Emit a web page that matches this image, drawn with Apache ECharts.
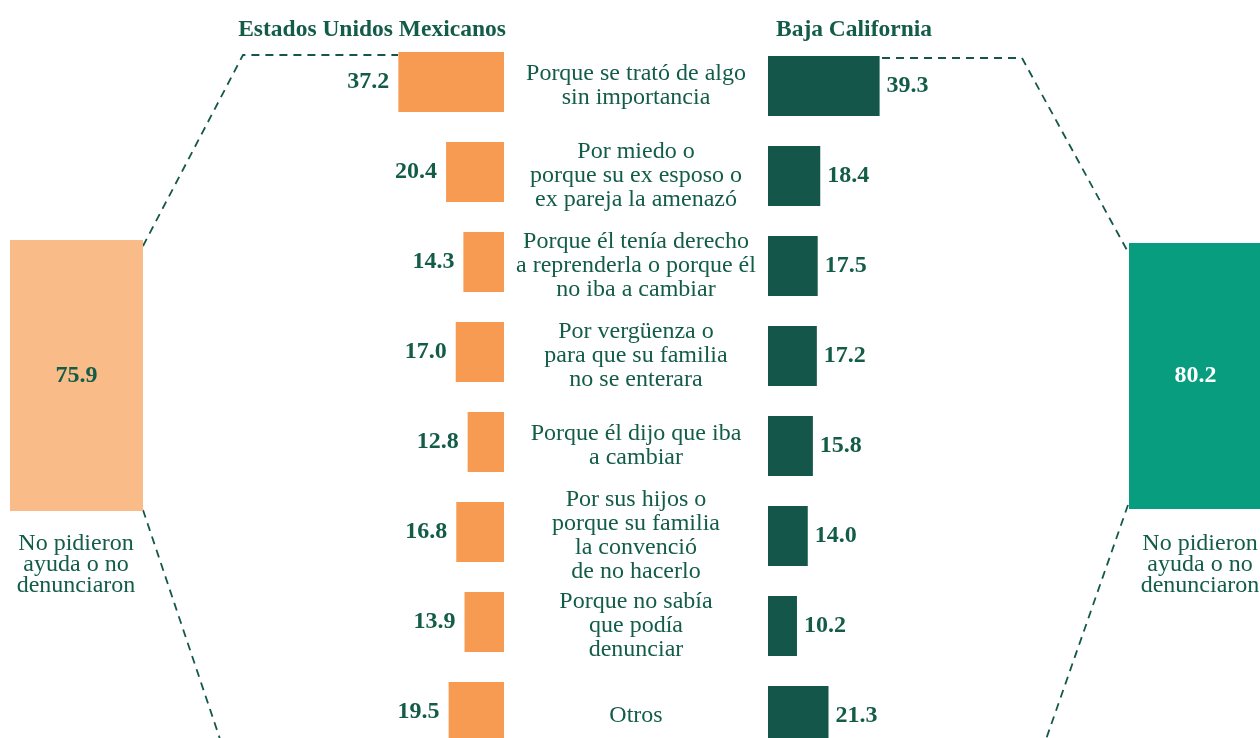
<!DOCTYPE html>
<html>
<head>
<meta charset="utf-8">
<script src="https://cdn.jsdelivr.net/npm/echarts@6/dist/echarts.min.js"></script>
<style>
  html, body { margin: 0; padding: 0; background: #fff; }
  #chart { width: 1260px; height: 738px; }
</style>
</head>
<body>
<div id="chart"></div>
<script>
// razones para no pedir ayuda / no denunciar
const categories = [
  'Porque se trató de algo\nsin importancia',
  'Por miedo o\nporque su ex esposo o\nex pareja la amenazó',
  'Porque él tenía derecho\na reprenderla o porque él\nno iba a cambiar',
  'Por vergüenza o\npara que su familia\nno se enterara',
  'Porque él dijo que iba\na cambiar',
  'Por sus hijos o\nporque su familia\nla convenció\nde no hacerlo',
  'Porque no sabía\nque podía\ndenunciar',
  'Otros'
];
const nacional = [37.2, 20.4, 14.3, 17.0, 12.8, 16.8, 13.9, 19.5];
const bajaCalifornia = [39.3, 18.4, 17.5, 17.2, 15.8, 14.0, 10.2, 21.3];

const titles = ['Estados Unidos Mexicanos', 'Baja California'];
const totalLabel = 'No pidieron\nayuda o no\ndenunciaron';
const totalNacional = [75.9];
const totalBC = [80.2];

const textColor = '#135C48';
const darkGreen = '#14574A';
const orange = '#F79B53';
const lightOrange = '#F9BB87';
const teal = '#079D7E';
const serif = 'Liberation Serif, Times New Roman, serif';

var chart = echarts.init(document.getElementById('chart'));

function dashed(points) {
  return {
    type: 'polyline',
    shape: { points: points },
    style: { stroke: darkGreen, lineWidth: 1.8, lineDash: [8, 6], fill: null },
    silent: true
  };
}

var option = {
  backgroundColor: '#fff',
  animation: false,
  textStyle: { fontFamily: serif },
  title: [
    { text: titles[0], left: 367, top: 13, textAlign: 'center',
      textStyle: { fontFamily: serif, fontSize: 23.5, fontWeight: 'bold', color: textColor } },
    { text: titles[1], left: 849, top: 13, textAlign: 'center',
      textStyle: { fontFamily: serif, fontSize: 23.5, fontWeight: 'bold', color: textColor } }
  ],
  grid: [
    // the last row runs past the bottom edge, as in the original
    { left: 362, width: 142, top: 37, height: 720, outerBoundsMode: 'none' },   // nacional
    { left: 768, width: 142, top: 41, height: 720, outerBoundsMode: 'none' },   // baja california
    { left: 10, width: 133, top: 240, height: 271, outerBoundsMode: 'none' },   // total nacional
    { left: 1129, width: 133, top: 243, height: 266, outerBoundsMode: 'none' }  // total BC
  ],
  xAxis: [
    { gridIndex: 0, type: 'value', min: 0, max: 50, inverse: true, show: false },
    { gridIndex: 1, type: 'value', min: 0, max: 50, show: false },
    { gridIndex: 2, type: 'category', data: [''], show: false },
    { gridIndex: 3, type: 'category', data: [''], show: false }
  ],
  yAxis: [
    { gridIndex: 0, type: 'category', data: categories, inverse: true, show: false },
    {
      gridIndex: 1, type: 'category', data: categories, inverse: true,
      axisLine: { show: false }, axisTick: { show: false },
      axisLabel: {
        margin: 132, align: 'center', fontFamily: serif, fontSize: 24,
        lineHeight: 24, color: textColor
      }
    },
    { gridIndex: 2, type: 'value', min: 0, max: totalNacional[0], show: false },
    { gridIndex: 3, type: 'value', min: 0, max: totalBC[0], show: false }
  ],
  series: [
    {
      type: 'bar', xAxisIndex: 0, yAxisIndex: 0, data: nacional, barWidth: 60,
      itemStyle: { color: orange },
      label: {
        show: true, position: 'left', distance: 9, fontFamily: serif,
        fontSize: 24, fontWeight: 'bold', color: textColor,
        formatter: p => p.value.toFixed(1)
      }
    },
    {
      type: 'bar', xAxisIndex: 1, yAxisIndex: 1, data: bajaCalifornia, barWidth: 60,
      itemStyle: { color: darkGreen },
      label: {
        show: true, position: 'right', distance: 7, fontFamily: serif,
        fontSize: 24, fontWeight: 'bold', color: textColor,
        formatter: p => p.value.toFixed(1)
      }
    },
    {
      type: 'bar', xAxisIndex: 2, yAxisIndex: 2, data: totalNacional, barWidth: '100%',
      itemStyle: { color: lightOrange },
      label: {
        show: true, position: 'inside', fontFamily: serif, fontSize: 24,
        fontWeight: 'bold', color: textColor, formatter: p => p.value.toFixed(1)
      }
    },
    {
      type: 'bar', xAxisIndex: 3, yAxisIndex: 3, data: totalBC, barWidth: '100%',
      itemStyle: { color: teal },
      label: {
        show: true, position: 'inside', fontFamily: serif, fontSize: 24,
        fontWeight: 'bold', color: '#fff', formatter: p => p.value.toFixed(1)
      }
    }
  ],
  graphic: [
    // conectores punteados
    dashed([[143, 246], [243, 55], [398, 55]]),
    dashed([[143, 510], [222, 745]]),
    dashed([[882, 58], [1022, 58], [1128, 252]]),
    dashed([[1128, 505], [1044, 745]]),
    {
      type: 'text', x: 76, y: 533,
      style: {
        text: totalLabel, font: '24px ' + serif, fill: textColor,
        align: 'center', verticalAlign: 'top', lineHeight: 21
      }
    },
    {
      type: 'text', x: 1200, y: 533,
      style: {
        text: totalLabel, font: '24px ' + serif, fill: textColor,
        align: 'center', verticalAlign: 'top', lineHeight: 21
      }
    }
  ]
};

chart.setOption(option);
</script>
</body>
</html>
